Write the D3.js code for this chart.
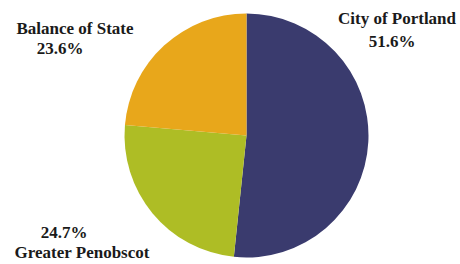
<!DOCTYPE html>
<html>
<head>
<meta charset="utf-8">
<script src="https://cdn.jsdelivr.net/npm/d3@7"></script>
<style>
html,body{margin:0;padding:0;background:#fff;}
svg{display:block;}
</style>
</head>
<body>
<svg id="chart" width="460" height="264"></svg>
<script>
const categories = ["City of Portland", "Greater Penobscot", "Balance of State"];
const values = [51.6, 24.7, 23.6];
const colors = ["#3A3B6E", "#AEBD25", "#E8A71B"];
// label layout per category
const labelPos = [
  {x: 397, y: 24, nameFirst: true, pctX: 392, gap: 23},
  {x: 82, y: 238, nameFirst: false, pctX: 64, gap: 20},
  {x: 75, y: 34, nameFirst: true, pctX: 60, gap: 20}
];

const svg = d3.select("#chart");
const cx = 246.5, cy = 135.5, r = 122;
const g = svg.append("g").attr("transform", `translate(${cx},${cy})`);

const pie = d3.pie().sort(null).value(d => d.v);
const arc = d3.arc().innerRadius(0).outerRadius(r);
const data = categories.map((c, i) => ({c, v: values[i], color: colors[i]}));

g.selectAll("path").data(pie(data)).enter().append("path")
  .attr("d", arc).attr("fill", d => d.data.color);

data.forEach((d, i) => {
  const p = labelPos[i];
  const pct = d.v.toFixed(1) + "%";
  const lines = p.nameFirst ? [[d.c, p.x], [pct, p.pctX]] : [[pct, p.pctX], [d.c, p.x]];
  lines.forEach((l, j) => {
    svg.append("text")
      .attr("x", l[1]).attr("y", p.y + j * p.gap)
      .attr("text-anchor", "middle")
      .style("font-family", '"Liberation Serif"')
      .style("font-weight", "bold")
      .style("font-size", "17px")
      .style("fill", "#1a1a1a")
      .text(l[0]);
  });
});
</script>
</body>
</html>
